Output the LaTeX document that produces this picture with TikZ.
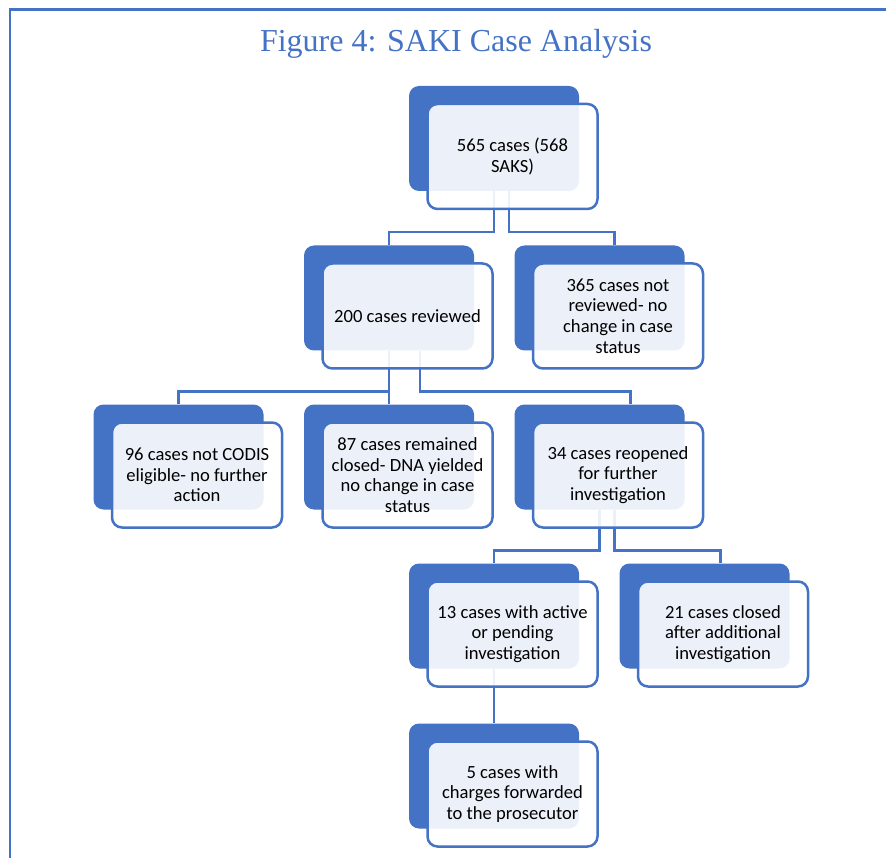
\documentclass[tikz,border=0pt]{standalone}
\usepackage{fontspec}
\setmainfont{Carlito}
\newfontfamily\titlefont{Liberation Serif}
\usetikzlibrary{calc}
\definecolor{sablue}{HTML}{4472C4}
\begin{document}
\begin{tikzpicture}[x=1pt,y=-1pt,
  backbox/.style={fill=sablue, draw=none, rounded corners=10pt, minimum width=170pt, minimum height=105pt, inner sep=0pt},
  frontbox/.style={draw=sablue, line width=2.5pt, fill=white, fill opacity=0.9, text opacity=1, draw opacity=1, rounded corners=10pt, minimum width=170pt, minimum height=105pt, inner sep=0pt, align=center, font=\fontsize{18.6}{20.7}\selectfont, text=black},
  conn/.style={draw=sablue, line width=2.6pt},
  frameline/.style={draw=sablue, line width=2.6pt}]
\useasboundingbox (0,0) rectangle (886,858);
% frame
\coordinate (fbl) at (9.8,865);
\coordinate (ftl) at (9.8,9.8);
\coordinate (ftr) at (895,9.8);
\draw[frameline] (fbl) -- (ftl) -- (ftr);
% title
\node[font=\titlefont\fontsize{32}{38}\selectfont, text=sablue, anchor=base, inner sep=0pt] (title) at (456,52) {Figure 4: SAKI Case Analysis};
% back boxes
\node[backbox] (b1) at (494,138.5) {};
\node[backbox] (b2) at (389,298) {};
\node[backbox] (b3) at (599.5,298) {};
\node[backbox] (b4) at (178.5,457) {};
\node[backbox] (b5) at (389,457) {};
\node[backbox] (b6) at (599.5,457) {};
\node[backbox] (b7) at (494,616) {};
\node[backbox] (b8) at (704.5,616) {};
\node[backbox] (b9) at (494,776) {};
% connectors
\draw[conn] (b1.south) -- ++(0,41) -| (b2.north);
\draw[conn] ([xshift=15pt]b1.south) -- ++(0,41) -| ([xshift=15pt]b3.north);
\draw[conn] (b2.south) -- ++(0,41) -| (b4.north);
\draw[conn] (b2.south) -- (b5.north);
\draw[conn] ([xshift=31pt]b2.south) -- ++(0,41) -| ([xshift=31pt]b6.north);
\draw[conn] (b6.south) -- ++(0,41) -| (b7.north);
\draw[conn] ([xshift=15pt]b6.south) -- ++(0,41) -| ([xshift=16pt]b8.north);
\draw[conn] (b7.south) -- (b9.north);
% front boxes
\node[frontbox] (f1) at ($(b1)+(18.5,18)$) {565 cases (568\\SAKS)};
\node[frontbox] (f2) at ($(b2)+(18.5,18)$) {200 cases reviewed};
\node[frontbox] (f3) at ($(b3)+(18.5,18)$) {365 cases not\\reviewed- no\\change in case\\status};
\node[frontbox] (f4) at ($(b4)+(18.5,18)$) {96 cases not CODIS\\eligible- no further\\action};
\node[frontbox] (f5) at ($(b5)+(18.5,18)$) {87 cases remained\\closed- DNA yielded\\no change in case\\status};
\node[frontbox] (f6) at ($(b6)+(18.5,18)$) {34 cases reopened\\for further\\investigation};
\node[frontbox] (f7) at ($(b7)+(18.5,18)$) {13 cases with active\\or pending\\investigation};
\node[frontbox] (f8) at ($(b8)+(18.5,18)$) {21 cases closed\\after additional\\investigation};
\node[frontbox] (f9) at ($(b9)+(18.5,18)$) {5 cases with\\charges forwarded\\to the prosecutor};
\end{tikzpicture}
\end{document}
